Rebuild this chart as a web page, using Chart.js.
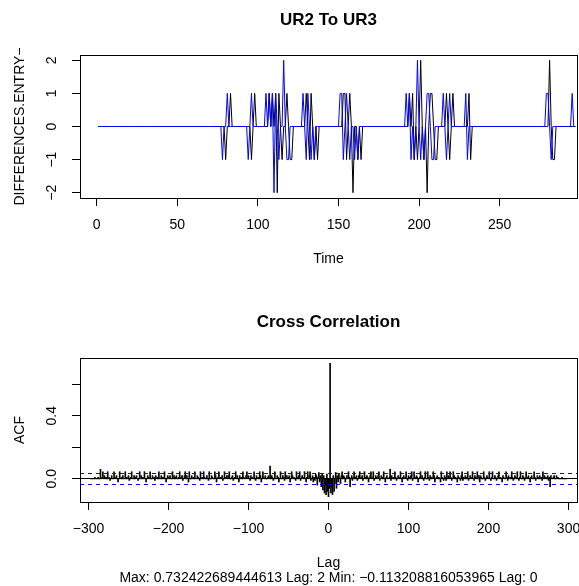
<!DOCTYPE html>
<html>
<head>
<meta charset="utf-8">
<script src="https://cdn.jsdelivr.net/npm/chart.js@4/dist/chart.umd.min.js"></script>
<style>
  html, body { margin: 0; padding: 0; background: #fff; }
  #wrap { position: relative; width: 579px; height: 586px; }
  canvas { position: absolute; left: 0; top: 0; }
</style>
</head>
<body>
<div id="wrap">
  <canvas id="diffChart" width="579" height="586"></canvas>
  <canvas id="ccfChart" width="579" height="586"></canvas>
</div>
<script>
// UR2 -> UR3 entry differences, t = 1..297
const seriesBlue = [
  0,0,0,0,0,0,0,0,0,0,0,0,0,0,0,0,0,0,0,0,
  0,0,0,0,0,0,0,0,0,0,0,0,0,0,0,0,0,0,0,0,
  0,0,0,0,0,0,0,0,0,0,0,0,0,0,0,0,0,0,0,0,
  0,0,0,0,0,0,0,0,0,0,0,0,0,0,0,0,0,-1,0,0,
  1,0,0,0,0,0,0,0,0,0,0,0,0,-1,0,1,0,0,0,0,
  0,0,0,0,1,0,1,0,1,-2,1,0,-1,0,0,2,0,-1,-1,0,
  0,0,0,0,0,0,0,1,0,-1,1,0,-1,0,-1,0,0,0,0,0,
  0,0,0,0,0,0,0,0,0,0,1,1,-1,0,1,0,-1,0,0,-1,
  0,-1,0,0,0,0,0,0,0,0,0,0,0,0,0,0,0,0,0,0,
  0,0,0,0,0,0,0,0,0,0,0,1,0,1,-1,0,-1,0,2,0,
  -1,0,-1,0,1,1,0,-1,-1,0,0,0,0,0,1,0,-1,0,1,0,
  0,0,0,0,0,0,0,0,1,-1,0,0,0,0,0,0,0,0,0,0,
  0,0,0,0,0,0,0,0,0,0,0,0,0,0,0,0,0,0,0,0,
  0,0,0,0,0,0,0,0,0,0,0,0,0,0,0,0,0,0,1,1,
  0,-1,0,0,0,0,0,0,0,0,0,0,0,0,1,0,0
];
const seriesBlack = [
  0,0,0,0,0,0,0,0,0,0,0,0,0,0,0,0,0,0,0,0,
  0,0,0,0,0,0,0,0,0,0,0,0,0,0,0,0,0,0,0,0,
  0,0,0,0,0,0,0,0,0,0,0,0,0,0,0,0,0,0,0,0,
  0,0,0,0,0,0,0,0,0,0,0,0,0,0,0,0,0,0,0,-1,
  0,0,1,0,0,0,0,0,0,0,0,0,0,0,0,-1,0,1,0,0,
  0,0,0,0,0,0,1,0,1,0,1,-2,1,0,-1,0,0,1,0,-1,
  -1,0,0,0,0,0,0,0,0,1,0,-1,1,0,-1,0,-1,0,0,0,
  0,0,0,0,0,0,0,0,0,0,0,0,1,1,-1,0,1,0,-2,0,
  0,-1,0,-1,0,0,0,0,0,0,0,0,0,0,0,0,0,0,0,0,
  0,0,0,0,0,0,0,0,0,0,0,0,0,1,0,1,-1,0,-1,0,
  2,0,-1,0,-2,0,1,1,0,-1,-1,0,0,0,0,0,1,0,-1,0,
  1,0,0,0,0,0,0,0,0,0,1,-1,0,0,0,0,0,0,0,0,
  0,0,0,0,0,0,0,0,0,0,0,0,0,0,0,0,0,0,0,0,
  0,0,0,0,0,0,0,0,0,0,0,0,0,0,0,0,0,0,0,0,
  2,0,-1,-1,0,0,0,0,0,0,0,0,0,0,0,0,0
];
const timeIndex = seriesBlue.map((v, i) => i + 1);

// cross correlation, lags -297..297
const ccfValues = [
  0,0,0,0,0,0.01,0,0,0,0.01,0,0,0.06,0,0.01,0.045,0,0.02,0,0.01,
  0,0.045,0,0.01,-0.01,0,0.02,0,0,0.045,0.01,0,0.02,0,-0.02,0,0.045,0,0.01,0,
  0.02,0,0,0.045,0,0.01,0,0.02,-0.01,0,0.01,0.045,0,0,0.02,0,0.01,0.02,0,-0.01,
  0,0.045,0,0.02,0,0.01,0,0.045,0,-0.02,0,0.02,0.01,0,0.045,0,0,0.02,0,0.01,
  -0.01,0.02,0,0.01,0,0.045,0,0,0.02,0,0.01,0,0.045,0,-0.02,0,0.02,0.01,0,0.02,
  0,0,0.045,0,0.02,0,0.01,0.02,0,0,0.01,0.045,0,0.01,0.02,-0.01,0,0.02,0.045,0,
  0.02,0,-0.02,0.045,0,0,0.02,0,0.01,0,0.045,0,0,0.02,0.01,0,-0.01,0.045,0,0.01,
  0,0.045,0.01,0,0,0.02,0,-0.01,0.045,0,0,0.02,0.01,0,0,0.045,0.02,-0.02,0,0.01,
  0.045,0,0.01,0,0.02,-0.01,0,0.045,0,0.01,0.02,0,0.02,0.045,0,0,0.01,0.02,-0.01,0,
  0.01,0.045,0,0.02,0,-0.02,0.02,0,0.01,0,0.045,0.01,0,0,0.02,0.045,0,0.02,0,-0.01,
  0.02,0,0.01,0,0.045,0,-0.01,0.02,0,0.01,0,0.045,0.02,-0.02,0,0.045,0.01,0,0.02,0,
  0,0.01,0.02,0,0.08,0,0.02,0.01,-0.01,0,0.045,0,0,0.02,0.01,-0.02,0,0.045,0,0,
  0.02,0.01,-0.01,0.045,0,0.02,0,0.01,0.02,-0.02,0,0.045,0.02,0,0.01,0,-0.01,0.045,0.01,0,
  0.02,0.045,-0.01,0,0.02,0.01,0,0.045,0,-0.02,0.01,0.045,0,0.02,0.045,-0.01,0,0.02,-0.02,0.01,
  -0.01,0.03,0.02,-0.04,0.01,0.04,-0.02,0.02,-0.05,0.03,-0.07,0.02,-0.09,-0.04,-0.1,0.03,-0.08,-0.1132,-0.06,0.7324,
  -0.09,-0.05,-0.1,0.02,-0.08,-0.03,0.04,-0.06,0.02,-0.02,0.03,0,-0.03,0.02,0.045,0,0.02,0.01,-0.02,0,
  0.02,0,0.045,0.01,-0.05,0,0.02,-0.01,0.01,0.045,0,0.01,0.02,-0.01,0,0.02,0.045,0,0.01,0.02,
  -0.01,0,0.045,0.01,0,0.02,0.01,-0.02,0,0.02,0.045,0,0.01,0.045,-0.01,0,0.02,0.01,0,0.02,
  0.045,-0.01,0,0.02,0.01,0,0.045,0,-0.02,0.01,0.02,0,0,0.01,0.06,-0.01,0.02,0,0.01,0,
  0.045,0.01,-0.01,0,0.02,0.01,0,0.045,0,-0.02,0.01,0.02,0,0.01,0.045,0,-0.01,0.02,0.01,0,
  0.02,0.045,-0.01,0,0.045,0.01,0,0.02,0.01,-0.02,0,0.01,0.045,0,0.02,0,-0.01,0.01,0.045,0,
  0,0.045,0.01,-0.01,0.02,0,0.01,0,0.045,0.02,-0.02,0,0.01,0.02,0,0.01,0,-0.02,0.045,0.01,
  0,-0.01,0.02,0.01,-0.01,0.045,0,0.02,0,0.045,0.01,-0.01,0,0.045,0.02,0,0.01,0,-0.02,0.02,
  0.01,0,-0.01,0.02,0.045,-0.01,0.01,0,0.02,0,0.01,0.045,-0.01,0,0.02,0.01,0,0.045,0,-0.01,
  0.02,0.01,0,0.045,0,0.02,-0.02,0.02,0.01,0,0,0.045,0.01,-0.01,0,0.02,0.01,0,0.045,0,
  -0.01,0.01,0.045,0,0,0.02,0.01,-0.01,0,0.02,0.045,0,0.01,0,-0.02,0.02,0.01,0,0,0.045,
  0.01,-0.01,0.02,0,0.01,0,0.045,0.01,-0.01,0,0.02,0.01,0,0.045,0,-0.01,0.01,0.045,0,0,
  0.02,0.01,-0.01,0,0.045,0.01,0,0.02,0,-0.02,0.01,0.02,0,0,0.045,0.01,-0.01,0,0.02,0.01,
  0,0.02,0,0.01,-0.01,0.045,0,0.02,0,0.01,0,0.02,-0.01,0.01,-0.05,0.02,0,0,0.01,0.02,
  0,0,0.02,0,0.01,0,0,0,0,0.01,0,0,0,0,0
];
const maxLag = (ccfValues.length - 1) / 2;
const ccfLags = ccfValues.map((v, i) => i - maxLag);
const ciLimit = 0.034;
const ccfYLabels = { '0': '0.0', '0.4': '0.4' };
const ccfSubtitle = 'Max: 0.732422689444613 Lag: 2 Min: \u22120.113208816053965 Lag: 0';

Chart.defaults.font.family = "'Liberation Sans', Arial, Helvetica, sans-serif";
Chart.defaults.color = '#000';

const minusFmt = v => String(v).replace('-', '\u2212');

function fixSize(w, h) {
    return function(scale) {
        if (w !== null) scale.width = w;
        if (h !== null) scale.height = h;
        scale.paddingLeft = 0; scale.paddingRight = 0;
        scale.paddingTop = 0; scale.paddingBottom = 0;
    };
}

const px = p => Math.round(p - 0.5) + 0.5;

const boxPlugin = {
    id: 'box',
    afterDraw(chart) {
        const a = chart.chartArea, ctx = chart.ctx;
        ctx.save();
        ctx.strokeStyle = '#000';
        ctx.lineWidth = 1;
        ctx.strokeRect(px(a.left), px(a.top), px(a.right) - px(a.left), px(a.bottom) - px(a.top));
        ctx.restore();
    }
};

const ccfLinesPlugin = {
    id: 'ccfLines',
    afterDatasetsDraw(chart) {
        const y = chart.scales.y, a = chart.chartArea, ctx = chart.ctx;
        const hline = v => {
            const yy = px(y.getPixelForValue(v));
            ctx.beginPath(); ctx.moveTo(a.left, yy); ctx.lineTo(a.right, yy); ctx.stroke();
        };
        ctx.save();
        ctx.lineWidth = 1;
        ctx.strokeStyle = '#000';
        hline(0);
        ctx.strokeStyle = '#0000ff';
        ctx.setLineDash([4, 4]);
        hline(ciLimit);
        hline(-ciLimit);
        ctx.restore();
    }
};

const axisGrid = { display: true, drawOnChartArea: false, drawTicks: true, tickLength: 8, color: '#000' };
const axisBorder = { display: true, color: '#000' };

function diffChart(ctx) {
    return new Chart(ctx, {
        type: 'line',
        data: {
            datasets: [
                {
                    label: 'UR3',
                    data: seriesBlue.map((v, i) => ({ x: timeIndex[i], y: v })),
                    borderColor: '#0000ff',
                    borderWidth: 1,
                    pointRadius: 0,
                    tension: 0
                },
                {
                    label: 'UR2',
                    data: seriesBlack.map((v, i) => ({ x: timeIndex[i], y: v })),
                    borderColor: '#000000',
                    borderWidth: 1,
                    pointRadius: 0,
                    tension: 0
                }
            ]
        },
        options: {
            responsive: false,
            animation: false,
            devicePixelRatio: 1,
            events: [],
            layout: { padding: { left: 0, right: 2, top: 0, bottom: 293 } },
            plugins: { legend: { display: false }, tooltip: { enabled: false } },
            scales: {
                x: {
                    type: 'linear', position: 'bottom', min: -10.4, max: 298,
                    grid: axisGrid, border: axisBorder,
                    ticks: { stepSize: 50, includeBounds: false, autoSkip: false, maxRotation: 0, padding: 11,
                             font: { size: 14 }, callback: minusFmt },
                    title: { display: true, text: 'Time', font: { size: 14 }, padding: { top: 0, bottom: 25.3 } },
                    afterFit: fixSize(null, 95)
                },
                x2: {
                    type: 'linear', position: 'top',
                    grid: { display: false }, border: { display: false },
                    ticks: { display: false },
                    title: { display: true, text: 'UR2 To UR3', font: { size: 17, weight: 'bold' }, padding: { top: 9.8, bottom: 0 } },
                    afterFit: fixSize(null, 55)
                },
                y: {
                    type: 'linear', position: 'left', min: -2.16, max: 2.16,
                    grid: axisGrid, border: axisBorder,
                    ticks: { stepSize: 1, includeBounds: false, autoSkip: false, minRotation: 90, maxRotation: 90,
                             crossAlign: 'center', padding: 12, font: { size: 14 }, callback: minusFmt },
                    title: { display: true, text: 'DIFFERENCES.ENTRY\u2212', font: { size: 14 }, padding: { top: 12.1, bottom: 0 } },
                    afterFit: fixSize(80, null)
                }
            }
        },
        plugins: [boxPlugin]
    });
}

function ccfChart(ctx) {
    return new Chart(ctx, {
        type: 'bar',
        data: {
            datasets: [
                {
                    label: 'ACF',
                    data: ccfValues.map((v, i) => ({ x: ccfLags[i], y: v })),
                    backgroundColor: '#000000',
                    borderWidth: 0,
                    barThickness: 1
                }
            ]
        },
        options: {
            responsive: false,
            animation: false,
            devicePixelRatio: 1,
            events: [],
            layout: { padding: { left: 0, right: 2, top: 0, bottom: 0 } },
            plugins: { legend: { display: false }, tooltip: { enabled: false } },
            scales: {
                x: {
                    type: 'linear', position: 'bottom', min: -310.6, max: 310.6, offset: false,
                    grid: Object.assign({ offset: false }, axisGrid), border: axisBorder,
                    ticks: { stepSize: 100, includeBounds: false, autoSkip: false, maxRotation: 0, padding: 11,
                             font: { size: 14 }, callback: minusFmt },
                    title: { display: true, text: ['Lag', ccfSubtitle], font: { size: 14, lineHeight: 1.086 }, padding: { top: 0, bottom: 0 } },
                    afterFit: fixSize(null, 84)
                },
                x2: {
                    type: 'linear', position: 'top',
                    grid: { display: false }, border: { display: false },
                    ticks: { display: false },
                    title: { display: true, text: 'Cross Correlation', font: { size: 17, weight: 'bold' }, padding: { top: 311.8, bottom: 0 } },
                    afterFit: fixSize(null, 358)
                },
                y: {
                    type: 'linear', position: 'left', min: -0.147, max: 0.766,
                    grid: axisGrid, border: axisBorder,
                    ticks: { stepSize: 0.2, includeBounds: false, autoSkip: false, minRotation: 90, maxRotation: 90,
                             crossAlign: 'center', padding: 10.3, font: { size: 14 },
                             callback: v => ccfYLabels[String(Math.round(v * 10) / 10)] || '' },
                    title: { display: true, text: 'ACF', font: { size: 14 }, padding: { top: 12.1, bottom: 0 } },
                    afterFit: fixSize(80, null)
                }
            }
        },
        plugins: [ccfLinesPlugin, boxPlugin]
    });
}

function renderCharts() {
    diffChart(document.getElementById('diffChart').getContext('2d'));
    ccfChart(document.getElementById('ccfChart').getContext('2d'));
}
renderCharts();
</script>
</body>
</html>
